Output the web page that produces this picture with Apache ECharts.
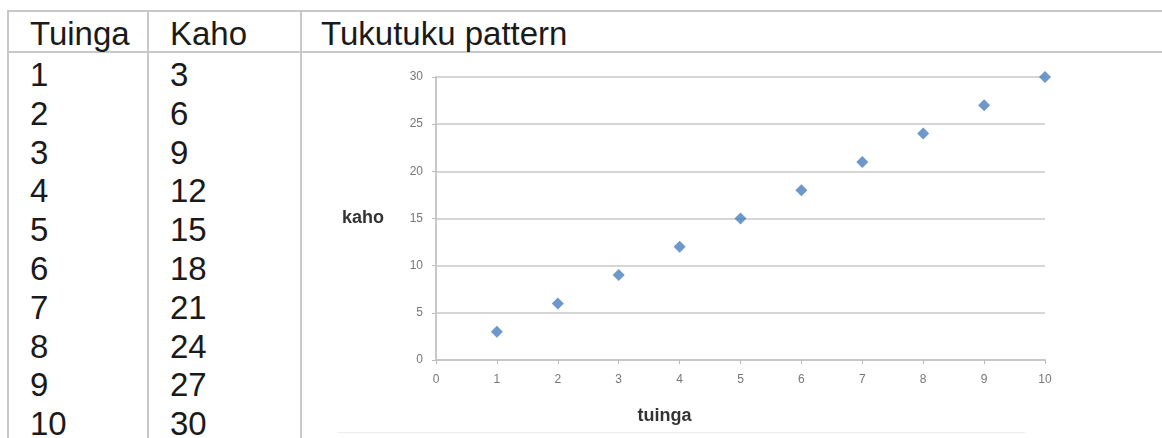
<!DOCTYPE html>
<html>
<head>
<meta charset="utf-8">
<script src="https://cdn.jsdelivr.net/npm/echarts@6/dist/echarts.min.js"></script>
<style>
  html, body { margin: 0; padding: 0; background: #fff; }
  #page { position: relative; width: 1162px; height: 438px; overflow: hidden;
          font-family: "Liberation Sans", Arial, sans-serif; color: #1a1a1a; }
  .hline { position: absolute; height: 2px; background: #c8c8c8; }
  .vline { position: absolute; width: 2px; background: #c8c8c8; }
  .cell { position: absolute; font-size: 33px; line-height: 33px; white-space: nowrap; }
  #chart { position: absolute; left: 302px; top: 53px; width: 860px; height: 385px; }
</style>
</head>
<body>
<div id="page">
  <div class="hline" style="left:7px; top:10px; width:1155px;"></div>
  <div class="hline" style="left:7px; top:51px; width:1155px;"></div>
  <div class="vline" style="left:7px; top:10px; height:428px;"></div>
  <div class="vline" style="left:147px; top:10px; height:428px;"></div>
  <div class="vline" style="left:300px; top:10px; height:428px;"></div>
  <div id="cells"></div>
  <div style="position:absolute; left:337px; top:432px; width:688px; height:1px; background:#ededed;"></div>
  <div id="chart"></div>
</div>
<script>
// table header + data
const headers = ['Tuinga', 'Kaho', 'Tukutuku pattern'];
const tuinga = [1, 2, 3, 4, 5, 6, 7, 8, 9, 10];
const kaho = [3, 6, 9, 12, 15, 18, 21, 24, 27, 30];
const xTicks = [0, 1, 2, 3, 4, 5, 6, 7, 8, 9, 10];
const yTicks = [0, 5, 10, 15, 20, 25, 30];

// fill the table cells
const cells = document.getElementById('cells');
const colX = [30, 170, 321];
const addCell = (text, x, y) => {
  const d = document.createElement('div');
  d.className = 'cell';
  d.style.left = x + 'px';
  d.style.top = y + 'px';
  d.textContent = text;
  cells.appendChild(d);
};
headers.forEach((h, i) => addCell(h, colX[i], 16.5));
tuinga.forEach((t, i) => {
  addCell(t, colX[0], 58 + i * 38.8);
  addCell(kaho[i], colX[1], 58 + i * 38.8);
});

// scatter chart
const chart = echarts.init(document.getElementById('chart'));
chart.setOption({
  animation: false,
  grid: { left: 134, right: 117, top: 24, bottom: 78 },
  xAxis: {
    type: 'value',
    min: xTicks[0],
    max: xTicks[xTicks.length - 1],
    interval: 1,
    name: 'tuinga',
    nameLocation: 'middle',
    nameGap: 47,
    nameTextStyle: { fontSize: 18, fontWeight: 'bold', color: '#333', padding: [0, 152, 0, 0] },
    axisLine: { lineStyle: { color: '#c8c8c8', width: 2 } },
    axisTick: { show: true, length: 4, lineStyle: { color: '#bbb' } },
    axisLabel: { fontSize: 12, color: '#777', margin: 14 },
    splitLine: { show: false }
  },
  yAxis: {
    type: 'value',
    min: yTicks[0],
    max: yTicks[yTicks.length - 1],
    interval: 5,
    name: 'kaho',
    nameLocation: 'middle',
    nameRotate: 0,
    nameGap: 52,
    nameTextStyle: { fontSize: 18, fontWeight: 'bold', color: '#333' },
    axisLine: { show: true, lineStyle: { color: '#c8c8c8', width: 2 } },
    axisTick: { show: true, length: 4, lineStyle: { color: '#bbb' } },
    axisLabel: { fontSize: 12, color: '#777', margin: 13 },
    splitLine: { lineStyle: { color: '#d6d6d6', width: 2 } }
  },
  series: [{
    type: 'scatter',
    symbol: 'diamond',
    symbolSize: 12,
    itemStyle: { color: '#4a7ebb' },
    data: tuinga.map((t, i) => [t, kaho[i]])
  }]
});
</script>
</body>
</html>
